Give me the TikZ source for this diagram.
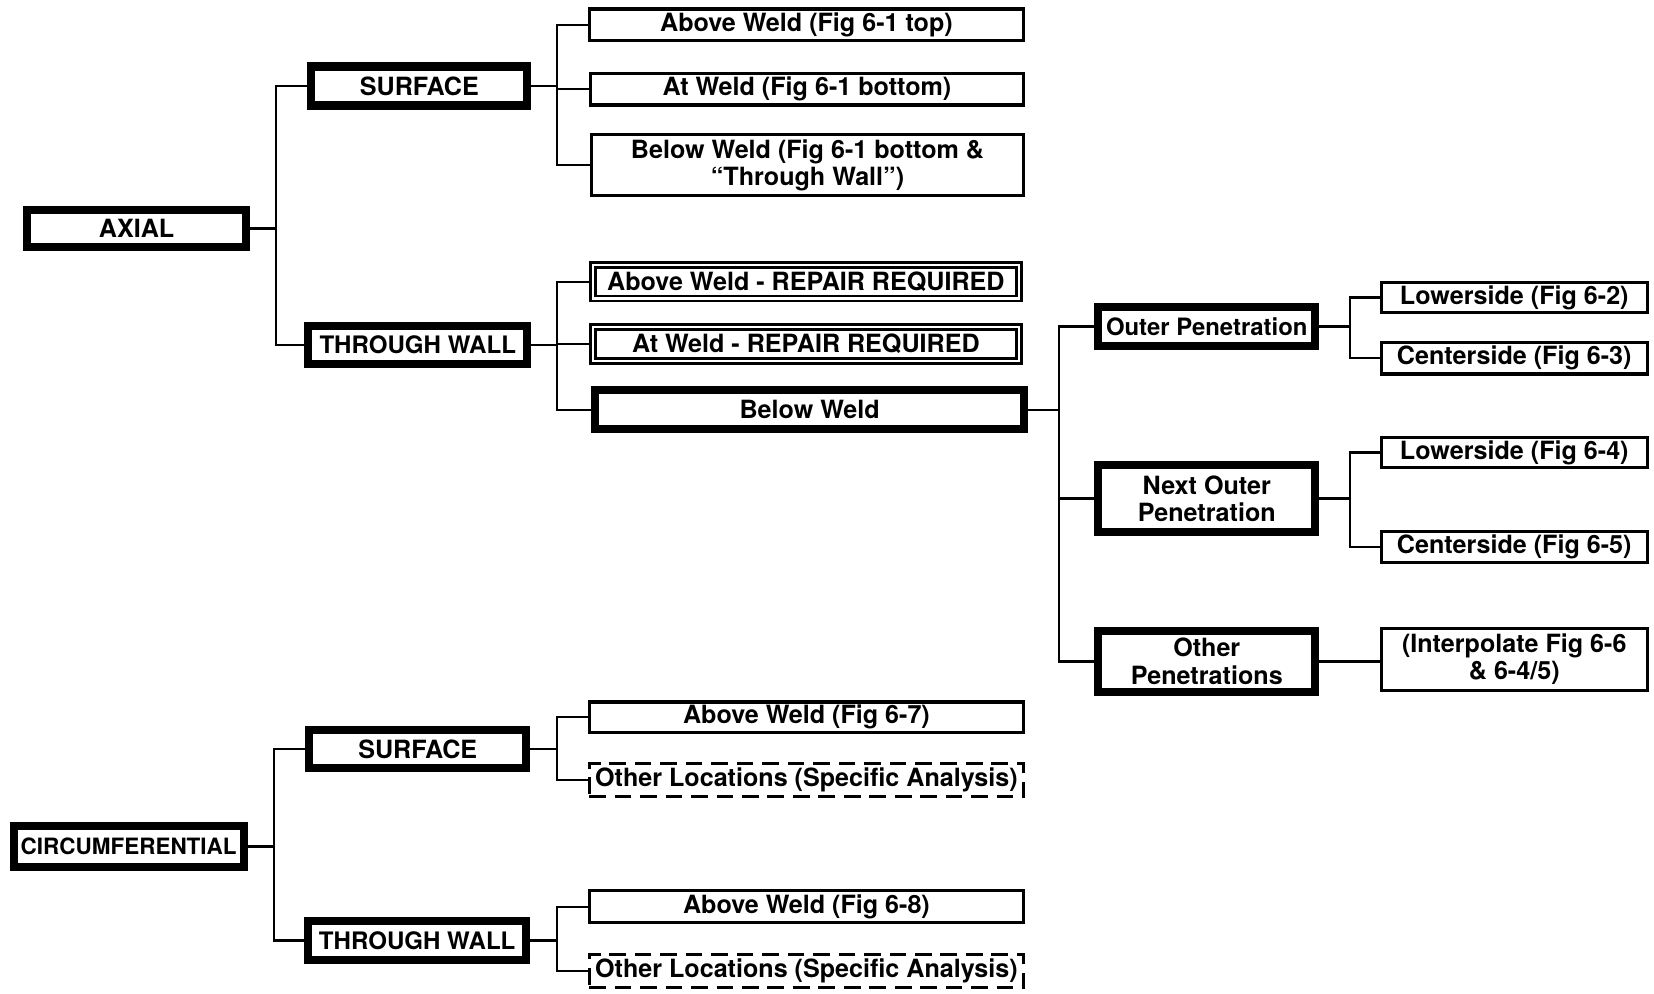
\documentclass[tikz,border=0pt]{standalone}
\usepackage{fontspec}
\setmainfont{TeX Gyre Heros}
\begin{document}
\begin{tikzpicture}[x=0.0211cm, y=-0.0211cm,
	every node/.style={align=center, inner sep=0pt, font=\bfseries\fontsize{14.3}{15.5}\selectfont},
	sz/.style 2 args={minimum width={#1*0.0211cm}, minimum height={#2*0.0211cm}},
	heavy/.style={draw, line width=4.6pt},
	plain/.style={draw, line width=1.8pt},
	twice/.style={draw, double, line width=1.6pt, double distance=1.3pt},
	broken/.style={draw, line width=1.7pt, dash pattern=on 9.5pt off 5pt},
	link/.style={line width=1.3pt}]

	\useasboundingbox (0,0) rectangle (1568,942);

	% axial branch
	\node[heavy, sz={207}{35}] (axial) at (129.5,216.5) {AXIAL};
	\node[heavy, sz={205}{37}] (surfA) at (397.5,81.5) {SURFACE};
	\node[heavy, sz={208}{36}, font=\bfseries\fontsize{13.7}{15}\selectfont] (wallA) at (396,327) {THROUGH WALL};

	\node[plain, sz={412}{30}] (aboveA) at (764.5,23.5) {Above Weld (Fig 6-1 top)};
	\node[plain, sz={411}{30}] (atA) at (765,84.5) {At Weld (Fig 6-1 bottom)};
	\node[plain, sz={410}{58}] (belowA) at (765.5,156.5) {Below Weld (Fig 6-1 bottom \&\\“Through Wall”)};

	\node[twice, sz={404}{32}] (aboveR) at (764,267) {Above Weld - REPAIR REQUIRED};
	\node[twice, sz={404}{32}] (atR) at (764,326) {At Weld - REPAIR REQUIRED};
	\node[heavy, sz={407}{37}] (belowW) at (767.5,388.5) {Below Weld};

	\node[heavy, sz={206}{37}, font=\bfseries\fontsize{13.6}{15}\selectfont] (outer) at (1144,309.5) {Outer Penetration};
	\node[heavy, sz={206}{63}] (next) at (1144,472.5) {Next Outer\\Penetration};
	\node[heavy, sz={206}{58}] (other) at (1144,627) {Other\\Penetrations};

	\node[plain, sz={252}{29}] (low2) at (1435.5,282) {Lowerside (Fig 6-2)};
	\node[plain, sz={252}{30}] (cen3) at (1435.5,339.5) {Centerside (Fig 6-3)};
	\node[plain, sz={252}{29}] (low4) at (1435.5,429) {Lowerside (Fig 6-4)};
	\node[plain, sz={252}{30}] (cen5) at (1435.5,518.5) {Centerside (Fig 6-5)};
	\node[plain, sz={252}{59}] (interp) at (1435.5,625) {(Interpolate Fig 6-6\\\& 6-4/5)};

	% circumferential branch
	\node[heavy, sz={218}{39}, font=\bfseries\fontsize{12.8}{14}\selectfont] (circ) at (122,802.5) {CIRCUMFERENTIAL};
	\node[heavy, sz={206}{36}] (surfC) at (396,710) {SURFACE};
	\node[heavy, sz={207}{37}, font=\bfseries\fontsize{13.7}{15}\selectfont] (wallC) at (395.5,891.5) {THROUGH WALL};

	\node[plain, sz={412}{29}] (above7) at (764.5,680) {Above Weld (Fig 6-7)};
	\node[broken, sz={412}{32}] (otherS) at (764.5,739.5) {Other Locations (Specific Analysis)};
	\node[plain, sz={412}{30}] (above8) at (764.5,859.5) {Above Weld (Fig 6-8)};
	\node[broken, sz={412}{32}] (otherT) at (764.5,920.5) {Other Locations (Specific Analysis)};

	% connectors
	\draw[link] (axial.east) -- ++(25,0) |- (surfA.west);
	\draw[link] (axial.east) -- ++(25,0) |- (wallA.west);
	\foreach \n in {aboveA,atA,belowA}
		\draw[link] (surfA.east) -- ++(24,0) |- (\n.west);
	\foreach \n in {aboveR,atR,belowW}
		\draw[link] (wallA.east) -- ++(24,0) |- (\n.west);
	\foreach \n in {outer,next,other}
		\draw[link] (belowW.east) -- ++(29,0) |- (\n.west);
	\foreach \n in {low2,cen3}
		\draw[link] (outer.east) -- ++(29,0) |- (\n.west);
	\foreach \n in {low4,cen5}
		\draw[link] (next.east) -- ++(29,0) |- (\n.west);
	\draw[link] (other.east) -- (other.east -| interp.west);

	\draw[link] (circ.east) -- ++(25,0) |- (surfC.west);
	\draw[link] (circ.east) -- ++(25,0) |- (wallC.west);
	\foreach \n in {above7,otherS}
		\draw[link] (surfC.east) -- ++(25,0) |- (\n.west);
	\foreach \n in {above8,otherT}
		\draw[link] (wallC.east) -- ++(25,0) |- (\n.west);

\end{tikzpicture}
\end{document}
